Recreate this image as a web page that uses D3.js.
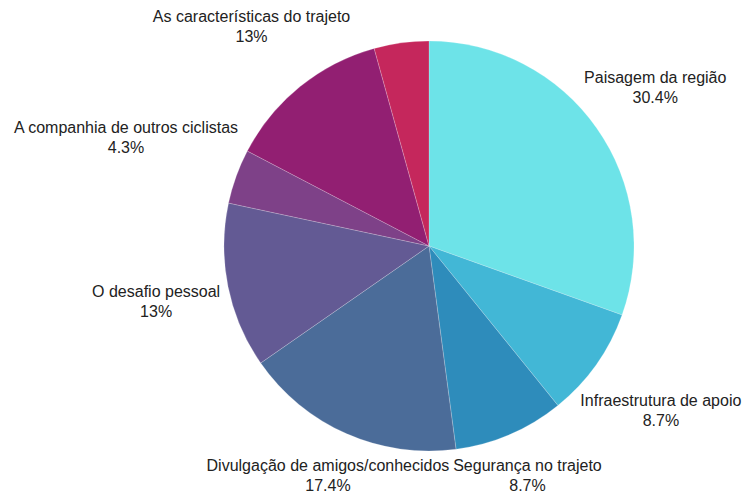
<!DOCTYPE html>
<html>
<head>
<meta charset="utf-8">
<script src="https://cdn.jsdelivr.net/npm/d3@7"></script>
<style>
  body { margin: 0; background: #fff; }
  text { font-family: "Liberation Sans", Arial, sans-serif; fill: #222; }
</style>
</head>
<body>
<svg width="745" height="495"></svg>
<script>
const categories = [
    "Paisagem da região",
    "Infraestrutura de apoio",
    "Segurança no trajeto",
    "Divulgação de amigos/conhecidos",
    "O desafio pessoal",
    "A companhia de outros ciclistas",
    "As características do trajeto",
    ""
];
const values = [30.4, 8.7, 8.7, 17.4, 13, 4.3, 13, 4.3];
const colors = ["#6de3e8", "#42b7d6", "#2e8cbb", "#4b6c99", "#635a94", "#7e4188", "#921f72", "#c5275c"];

const svg = d3.select("svg");
const cx = 429, cy = 246, radius = 205;
const maxLabelY = 475 - cy; // keep the label block inside the picture

const data = categories.map((c, i) => ({ name: c, value: values[i], color: colors[i] }));

const pie = d3.pie().sort(null).value(d => d.value);
const arc = d3.arc().innerRadius(0).outerRadius(radius);
const arcs = pie(data);

const g = svg.append("g").attr("transform", `translate(${cx},${cy})`);

g.selectAll("path")
    .data(arcs)
    .enter().append("path")
    .attr("d", arc)
    .attr("fill", d => d.data.color)
    .attr("stroke", "rgba(255,255,255,0.25)")
    .attr("stroke-width", 0.8);

const labels = g.selectAll("g.label")
    .data(arcs.filter(d => d.data.name))
    .enter().append("g")
    .attr("class", "label");

labels.append("text")
    .attr("text-anchor", "middle")
    .attr("font-size", 16)
    .attr("y", -4)
    .text(d => d.data.name);

labels.append("text")
    .attr("text-anchor", "middle")
    .attr("font-size", 16)
    .attr("y", 16)
    .text(d => d.data.value + "%");

labels.attr("transform", function (d) {
    const a = (d.startAngle + d.endAngle) / 2;
    const w = this.querySelector("text").getComputedTextLength();
    let dist = radius + 9 + 8 * Math.abs(Math.cos(a)) + (w / 2) * Math.abs(Math.sin(a));
    if (-Math.cos(a) * dist > maxLabelY) dist = maxLabelY / -Math.cos(a);
    return `translate(${Math.sin(a) * dist},${-Math.cos(a) * dist})`;
});
</script>
</body>
</html>
